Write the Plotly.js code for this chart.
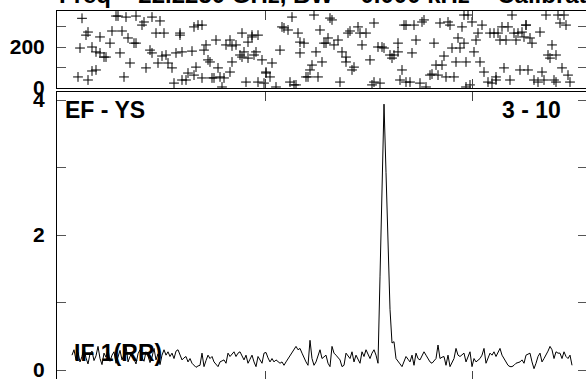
<!DOCTYPE html>
<html>
<head>
<meta charset="utf-8">
<script src="https://cdn.plot.ly/plotly-3.0.1.min.js"></script>
<style>
html,body{margin:0;padding:0;overflow:hidden;background:#fff;}
#plot{width:600px;height:395px;}
</style>
</head>
<body>
<div id="plot"></div>
<script>
// Title / labels
const titleText = "Freq = 22.2250 GHz, BW = 0.000 kHz = Calibrated";
const baselineLabel = "EF - YS";
const scanLabel = "3 - 10";
const ifLabel = "IF 1(RR)";

// Amplitude spectrum (one value per channel)
const amplitude = [
0.22,0.30,0.15,0.26,0.12,0.20,0.33,0.18,0.09,0.24,
0.28,0.14,0.21,0.35,0.17,0.08,0.25,0.19,0.31,0.13,
0.22,0.27,0.10,0.18,0.29,0.15,0.23,0.36,0.12,0.20,
0.26,0.16,0.09,0.24,0.30,0.18,0.13,0.27,0.21,0.11,
0.19,0.32,0.15,0.24,0.08,0.22,
0.30,0.22,0.27,0.20,0.25,0.17,0.28,0.30,0.22,0.15,0.18,0.20,0.12,0.17,0.10,0.07,0.04,0.06,
0.07,0.25,0.05,0.14,0.22,0.17,0.20,0.12,0.09,0.05,0.12,0.14,0.15,0.10,0.25,0.20,0.24,0.27,0.20,0.25,
0.27,0.20,0.15,0.22,0.10,0.16,0.22,0.12,0.05,0.20,0.14,0.10,0.25,0.26,0.18,0.12,0.17,0.12,0.15,0.12,
0.10,0.12,0.07,0.12,0.17,0.22,0.27,0.32,0.35,0.30,0.32,0.25,0.17,0.12,0.07,0.44,0.17,0.07,
0.12,0.20,0.30,0.17,0.20,0.22,0.10,0.05,0.35,0.25,0.22,0.18,0.15,0.05,0.07,0.25,0.20,0.17,0.27,0.12,
0.22,0.16,0.10,0.27,0.20,0.30,0.22,0.17,0.25,0.30,0.22,0.10,
1.38,2.66,3.94,2.93,1.92,0.90,
0.40,0.42,0.17,0.12,0.09,0.05,0.12,0.20,0.16,0.12,0.22,0.07,0.25,0.17,0.15,0.21,0.27,0.22,0.17,0.12,
0.10,0.13,0.17,0.37,0.17,0.19,0.20,0.07,0.22,0.05,0.12,0.17,0.32,0.22,0.20,0.22,0.25,0.12,0.20,0.27,
0.05,0.17,0.12,0.15,0.17,0.22,0.32,0.10,0.18,0.25,0.22,0.27,0.20,0.25,0.32,0.22,0.17,0.10,0.07,0.05,
0.05,0.07,0.10,0.11,0.12,0.15,0.10,0.22,0.24,0.25,0.12,0.02,0.10,0.20,0.25,0.12,0.17,0.22,0.28,0.35,
0.30,0.17,0.27,0.25,0.25,0.17,0.27,0.20,0.17,0.22,0.07
];
const channels = amplitude.map((_, i) => i);

// Phase (degrees) per channel
const phaseChan = [3,4,5,7,8,8,10,10,12,12,14,14,16,17,19,20,22,23,26,25,24,27,28,29,31,32,32,35,36,37,39,40,40,42,43,44,45,46,47,48,50,51,52,54,54,55,55,57,58,60,61,61,62,63,65,65,66,67,68,69,70,71,72,73,74,76,75,77,79,79,80,80,82,84,85,85,86,87,88,88,90,90,91,92,93,93,95,96,97,97,99,100,102,104,105,106,108,109,110,111,112,113,114,114,116,117,118,119,120,121,122,123,124,125,126,127,128,129,130,131,133,134,135,137,137,138,139,140,141,143,144,145,147,149,150,151,151,153,154,155,156,159,160,161,163,163,164,165,166,167,167,169,170,171,172,174,175,176,177,179,180,181,182,183,184,185,186,187,188,189,190,191,192,193,194,195,196,196,197,197,198,199,200,201,202,203,204,205,206,208,209,210,211,212,212,213,214,215,216,217,218,219,220,221,222,223,224,225,226,227,227,228,229,230,231,233,234,235,236,237,238,239,240,241,242,242,243,244,245,246,247,248,249];
const phaseDeg = [54,195,340,258,273,39,83,200,88,176,249,171,151,151,219,278,351,351,54,278,171,346,244,122,219,351,219,307,322,98,185,171,346,268,122,327,156,268,161,122,98,24,171,258,268,39,176,39,73,180,298,63,102,307,307,49,185,210,137,127,49,49,234,98,54,49,5,210,234,78,205,127,210,161,268,151,176,29,224,146,249,258,161,176,29,258,137,24,78,73,54,122,5,185,298,293,283,29,346,15,15,268,171,224,219,54,54,88,112,356,176,54,283,127,219,219,244,341,332,210,234,29,176,127,151,268,278,88,102,298,268,210,268,137,15,317,29,200,24,200,195,161,146,161,176,219,39,88,307,29,307,29,171,307,234,24,322,332,5,63,68,219,112,63,317,112,156,54,322,307,195,54,127,244,195,298,219,356,127,5,356,15,322,176,234,268,127,307,78,29,268,24,268,54,39,268,234,298,98,234,298,39,356,268,234,268,88,273,249,307,307,88,244,219,39,29,273,78,39,356,161,146,210,39,29,161,356,317,98,356,307,63,29];

// Axis ticks
const xTickVals = [96.5, 200];
const phaseTickVals = [0, 100, 200, 300];
const phaseTickText = ["0", "", "200", ""];
const ampTickVals = [0, 1, 2, 3, 4];
const ampTickText = ["0", "", "2", "", "4"];

const FONT = "Liberation Sans, Arial, Helvetica, sans-serif";
const tickFont = {family: FONT, size: 21, color: "#000", weight: "bold"};

const traces = [
  {
    x: channels, y: amplitude, xaxis: "x", yaxis: "y",
    type: "scatter", mode: "lines",
    line: {color: "#000", width: 1},
    hoverinfo: "skip"
  },
  {
    x: phaseChan, y: phaseDeg, xaxis: "x2", yaxis: "y2",
    type: "scatter", mode: "markers",
    marker: {symbol: "cross-thin", size: 7, color: "#000", line: {color: "#000", width: 1}},
    hoverinfo: "skip"
  }
];

const xCommon = {
  range: [-7.5, 257.5], tickvals: xTickVals, showticklabels: false,
  ticks: "inside", ticklen: 9, tickwidth: 1, tickcolor: "#444",
  showline: true, linecolor: "#000", linewidth: 1, mirror: "allticks",
  showgrid: false, zeroline: false
};
const yCommon = {
  ticks: "inside", ticklen: 9, tickwidth: 1, tickcolor: "#555",
  showline: true, linecolor: "#000", linewidth: 1, mirror: "allticks",
  showgrid: false, zeroline: false, tickfont: tickFont, ticklabelstandoff: 7
};

const layout = {
  width: 600, height: 395,
  margin: {l: 57, r: 13, t: 11, b: 15, pad: 0},
  paper_bgcolor: "#fff", plot_bgcolor: "#fff",
  showlegend: false,
  font: {family: FONT, color: "#000"},
  xaxis: Object.assign({}, xCommon, {anchor: "y", domain: [0, 1]}),
  yaxis: Object.assign({}, yCommon, {domain: [0, 0.7805], range: [-0.148, 4.12],
    tickvals: ampTickVals, ticktext: ampTickText}),
  xaxis2: Object.assign({}, xCommon, {anchor: "y2", domain: [0, 1]}),
  yaxis2: Object.assign({}, yCommon, {domain: [0.7913, 1], range: [0, 375.6],
    tickvals: phaseTickVals, ticktext: phaseTickText}),
  annotations: [
    {text: titleText, xref: "paper", yref: "paper", x: 0, y: 1.0027,
     xanchor: "left", yanchor: "bottom", showarrow: false,
     font: {family: FONT, size: 24, color: "#000", weight: "bold"}},
    {text: baselineLabel, xref: "paper", yref: "paper", x: 0.0113, y: 0.7317,
     xanchor: "left", yanchor: "middle", showarrow: false,
     font: {family: FONT, size: 23, color: "#000", weight: "bold"}},
    {text: scanLabel, xref: "paper", yref: "paper", x: 0.9547, y: 0.7317,
     xanchor: "right", yanchor: "middle", showarrow: false,
     font: {family: FONT, size: 23, color: "#000", weight: "bold"}},
    {text: ifLabel, xref: "paper", yref: "paper", x: 0.0283, y: 0.0745,
     xanchor: "left", yanchor: "middle", showarrow: false,
     font: {family: FONT, size: 23, color: "#000", weight: "bold"}}
  ]
};

Plotly.newPlot("plot", traces, layout, {displayModeBar: false, staticPlot: true});
</script>
</body>
</html>
